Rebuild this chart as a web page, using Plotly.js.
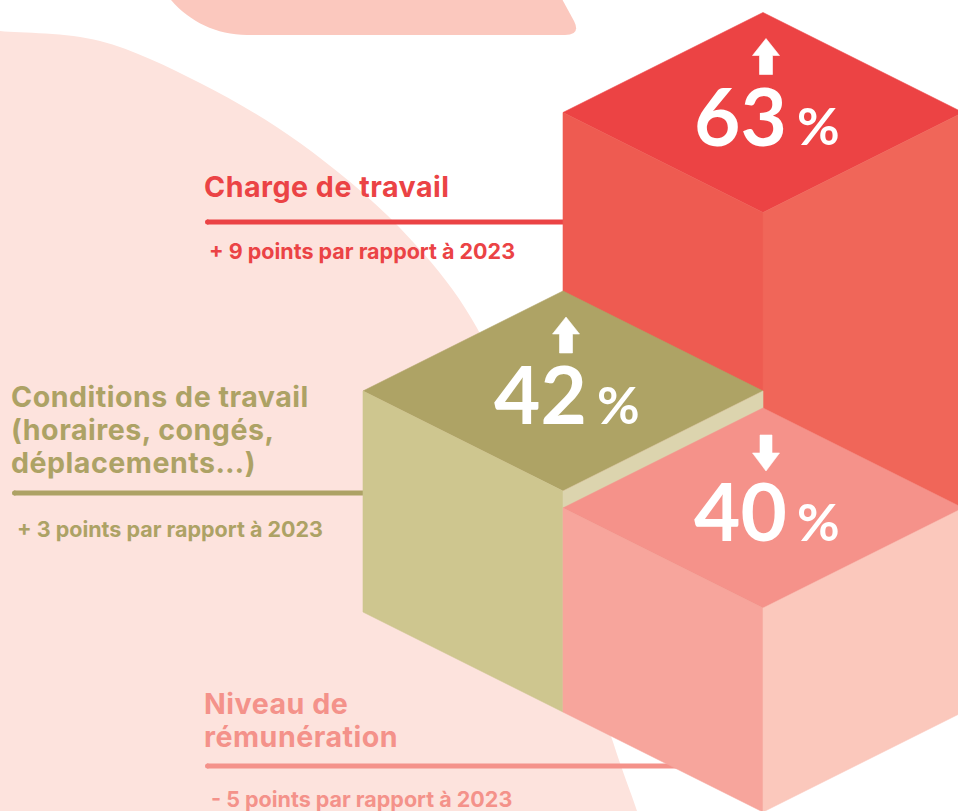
<!DOCTYPE html>
<html><head><meta charset="utf-8">
<script src="https://cdn.plot.ly/plotly-3.0.1.min.js"></script>
<style>html,body{margin:0;padding:0;background:#fff;overflow:hidden}</style>
</head><body><div id="chart" style="width:958px;height:811px"></div>
<script>
// ---- data ----
const categories = ["Charge de travail", "Conditions de travail", "Niveau de rémunération"];
const labelLines = [["Charge de travail"], ["Conditions de travail", "(horaires, congés,", "déplacements…)"], ["Niveau de", "rémunération"]];
const values = [63, 42, 40];
const deltas = [9, 3, -5];
const baseYear = 2023;

// ---- style / layout constants ----
const LBL_FONT = {family: "Inter, 'Open Sans', sans-serif", asc: 0.969, desc: 0.241};
const NUM_FONT = {family: "Lato, 'Noto Sans', sans-serif", asc: 0.987, desc: 0.213};
const textColors = ["#EB4345", "#ADA265", "#F4928A"];
const faceColors = [["#EC4344", "#EE5B51", "#F06659"], ["#AEA365", "#CEC68F", "#DCD4AE"], ["#F5928A", "#F7A59C", "#FBC8BC"]];
const cells = [[0, 1], [0, 0], [1, 0]];           // isometric grid cell of each block
const ISO = {x0: 363, y0: 612, dx: 200, dy: 100};  // isometric projection
const heightScale = v => 8.5 * (v - 16);           // value -> block elevation
const labelPos = [{x: 204, sx: 209, base: [197], rule: 222, sub: 259, ruleEnd: 575},
                  {x: 11, sx: 17, base: [407, 440, 473], rule: 493, sub: 537, ruleEnd: 375},
                  {x: 204, sx: 211, base: [714, 747], rule: 766, sub: 807, ruleEnd: 700}];
const TITLE_SIZE = 28.6, SUB_SIZE = 21.5;

function P(i, j, z) { return [ISO.x0 + ISO.dx * (i + j), ISO.y0 + ISO.dy * (i - j) - z]; }
function poly(pts, color) {
  const xs = pts.map(p => p[0]).concat([pts[0][0]]);
  const ys = pts.map(p => p[1]).concat([pts[0][1]]);
  return {type: 'scatter', mode: 'lines', x: xs, y: ys, fill: 'toself', fillcolor: color,
          line: {color: color, width: 0.6}, hoverinfo: 'skip', showlegend: false};
}
function smoothPath(pts) {
  let d = `M ${pts[0][0]},${pts[0][1]}`;
  for (let k = 0; k < pts.length - 1; k++) {
    const p0 = pts[Math.max(k - 1, 0)], p1 = pts[k], p2 = pts[k + 1], p3 = pts[Math.min(k + 2, pts.length - 1)];
    const c1 = [p1[0] + (p2[0] - p0[0]) / 6, p1[1] + (p2[1] - p0[1]) / 6];
    const c2 = [p2[0] - (p3[0] - p1[0]) / 6, p2[1] - (p3[1] - p1[1]) / 6];
    d += ` C ${c1[0].toFixed(1)},${c1[1].toFixed(1)} ${c2[0].toFixed(1)},${c2[1].toFixed(1)} ${p2[0]},${p2[1]}`;
  }
  return d;
}
// text placed by baseline(s); multi-line via one text element with controlled line spacing
function txt(x, baselines, lines, size, color, anchor, f, ls) {
  const top = baselines[0] - f.asc * size;
  const bottom = baselines[baselines.length - 1] + f.desc * size;
  const spacing = baselines.length > 1 ? (baselines[1] - baselines[0]) : size * 1.3;
  const st = `font-size:${size}px` + (ls ? `;letter-spacing:${ls}px` : '');
  return {xref: 'x', yref: 'y', x: x, y: (top + bottom) / 2,
          text: lines.map(l => `<span style="${st}"><b>${l}</b></span>`).join('<br>'),
          showarrow: false, xanchor: anchor || 'left', yanchor: 'middle', align: 'left',
          borderpad: 0, borderwidth: 0,
          font: {family: f.family, size: spacing / 1.3, color: color}};
}

const traces = [];
const annotations = [];
const order = [0, 1, 2].sort((a, b) => (cells[a][0] - cells[a][1]) - (cells[b][0] - cells[b][1]));
order.forEach(k => {
  const [i, j] = cells[k];
  const h = heightScale(values[k]);
  const L0 = P(i, j, 0), F0 = P(i + 1, j, 0), R0 = P(i + 1, j + 1, 0);
  const Lt = P(i, j, h), Ft = P(i + 1, j, h), Rt = P(i + 1, j + 1, h), Bt = P(i, j + 1, h);
  traces.push(poly([Lt, Bt, Rt, Ft], faceColors[k][0]));
  traces.push(poly([Lt, Ft, F0, L0], faceColors[k][1]));
  traces.push(poly([Ft, Rt, R0, F0], faceColors[k][2]));
});
// value labels and arrows on top faces
[0, 1, 2].forEach(k => {
  const [i, j] = cells[k];
  const C = P(i + 0.5, j + 0.5, heightScale(values[k]));
  const base = C[1] + 33;
  const cx = C[0] + 3;
  let pts;
  if (deltas[k] > 0) {
    const a = base - 107, hb = base - 90, sb = base - 71;
    pts = [[cx, a], [cx + 13.5, hb], [cx + 6.5, hb], [cx + 6.5, sb], [cx - 6.5, sb], [cx - 6.5, hb], [cx - 13.5, hb]];
  } else {
    const st = base - 106, hb = base - 88, a = base - 70;
    pts = [[cx - 6, st], [cx + 6, st], [cx + 6, hb], [cx + 13.5, hb], [cx, a], [cx - 13.5, hb], [cx - 6, hb]];
  }
  traces.push(poly(pts, '#FFFFFF'));
  annotations.push(txt(C[0] + 24, [base], [String(values[k])], 80, '#FFFFFF', 'right', NUM_FONT));
  annotations.push(txt(C[0] + 34, [base], ['%'], 52, '#FFFFFF', 'left', NUM_FONT));
});

// background shapes, category labels and leader rules
const shapes = [];
const blobPts = [[-30, 28], [0, 31], [100, 41], [200, 83], [300, 143], [400, 228], [477, 328],
                 [525, 455], [569, 600], [613, 742], [637, 811], [648, 850]];
shapes.push({type: 'path', xref: 'x', yref: 'y', layer: 'below', path: smoothPath(blobPts) + ' L -30,850 Z',
             fillcolor: '#FDE3DD', line: {width: 0}});
shapes.push({type: 'path', xref: 'x', yref: 'y', layer: 'below',
             path: 'M 147,-80 L 147,-65 C 147,-9.8 191.8,35 247,35 L 565,35 Q 581,35 574,21 L 556,-12 L 147,-80 Z',
             fillcolor: '#FBC8BE', line: {width: 0}});
[0, 1, 2].forEach(k => {
  const lp = labelPos[k];
  annotations.push(txt(lp.x, lp.base, labelLines[k], TITLE_SIZE, textColors[k], 'left', LBL_FONT, 0.5));
  const d = deltas[k];
  annotations.push(txt(lp.sx, [lp.sub], [(d > 0 ? '+ ' : '- ') + Math.abs(d) + ' points par rapport à ' + baseYear],
                       SUB_SIZE, textColors[k], 'left', LBL_FONT));
  shapes.push({type: 'line', xref: 'x', yref: 'y', layer: 'below', x0: lp.x + 3, x1: lp.ruleEnd, y0: lp.rule, y1: lp.rule,
               line: {color: textColors[k], width: 5}});
  shapes.push({type: 'circle', xref: 'x', yref: 'y', layer: 'below', x0: lp.x + 1, x1: lp.x + 6, y0: lp.rule - 2.5, y1: lp.rule + 2.5,
               fillcolor: textColors[k], line: {width: 0}});
});

const layout = {
  width: 958, height: 811, margin: {l: 0, r: 0, t: 0, b: 0, pad: 0},
  paper_bgcolor: '#FFFFFF', plot_bgcolor: 'rgba(0,0,0,0)',
  xaxis: {range: [0, 958], visible: false, fixedrange: true},
  yaxis: {range: [811, 0], visible: false, fixedrange: true},
  showlegend: false, hovermode: false,
  shapes: shapes, annotations: annotations
};
Plotly.newPlot('chart', traces, layout, {staticPlot: true, displayModeBar: false});
</script></body></html>
